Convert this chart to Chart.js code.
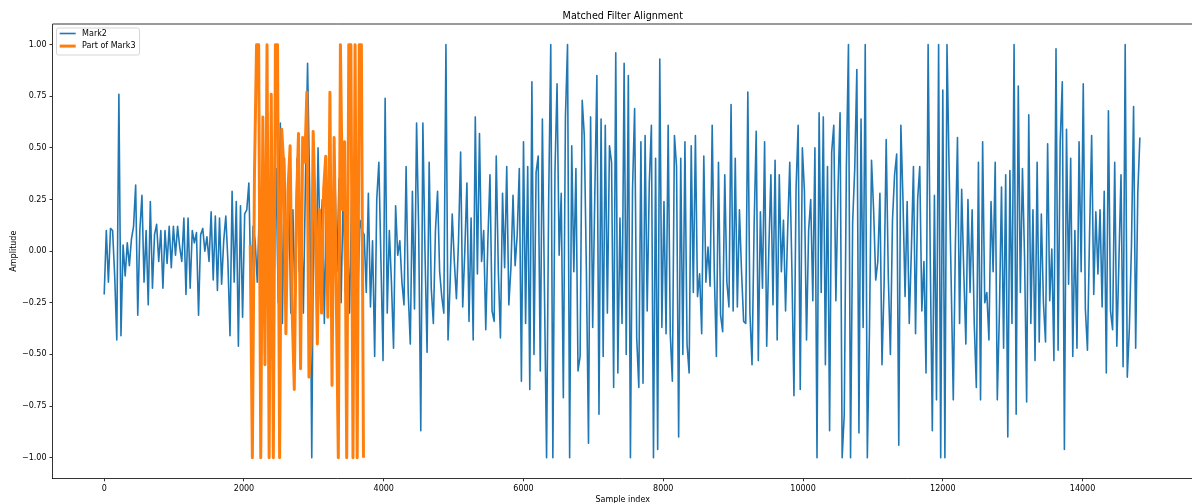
<!DOCTYPE html>
<html>
<head>
<meta charset="utf-8">
<script src="https://cdn.jsdelivr.net/npm/chart.js@4.4.1/dist/chart.umd.min.js"></script>
<style>
  html, body { margin: 0; padding: 0; background: #fff; overflow: hidden; }
</style>
</head>
<body>
<canvas id="chart" width="1192" height="503"></canvas>
<script>
const titleText = 'Matched Filter Alignment';
const xTitle = 'Sample index';
const yTitle = 'Amplitude';

const xTicks = [0, 2000, 4000, 6000, 8000, 10000, 12000, 14000];
const yTicks = [-1, -0.75, -0.5, -0.25, 0, 0.25, 0.5, 0.75, 1];

// Mark2, one value every sampleStep samples from index 0
const sampleStep = 30;
const mark2 = [
  -0.21, 0.10, -0.15, 0.11, 0.10, -0.12, -0.43, 0.76, -0.41, 0.03,
  -0.12, 0.04, -0.07, 0.06, 0.12, 0.32, -0.31, 0.10, 0.27, -0.15,
  0.10, -0.26, 0.24, -0.18, 0.08, 0.13, -0.05, 0.10, -0.18, 0.10,
  -0.06, 0.12, -0.08, 0.12, -0.02, 0.12, 0.02, -0.05, 0.16, -0.21,
  0.16, -0.18, 0.10, 0.04, 0.09, -0.31, 0.08, 0.11, 0.00, 0.07,
  -0.05, 0.19, -0.14, 0.17, -0.19, 0.16, -0.16, 0.05, 0.17, -0.05,
  -0.41, 0.29, -0.15, 0.24, -0.46, 0.22, -0.32, 0.18, 0.20, 0.33,
  -0.20, 0.12, 0.05, -0.15, 0.20, -0.25, 0.30, -0.20, 0.35, -0.30,
  0.25, -0.15, 0.40, -0.25, 0.62, -0.35, 0.45, -0.20, 0.30, -0.30,
  0.20, -0.25, 0.45, -0.10, 0.20, -0.30, 0.35, 0.91, 0.30, -1.00,
  0.40, -0.20, 0.50, 0.00, 0.25, -0.35, 0.30, -0.15, 0.20, -0.30,
  0.40, -0.10, 0.35, -0.25, 0.30, -0.20, 0.10, -0.30, 0.25, -0.10,
  0.20, -0.20, 0.15, 0.10, 0.08, -0.20, 0.28, -0.27, 0.05, -0.51,
  0.25, 0.43, -0.05, -0.53, 0.74, -0.30, 0.10, -0.15, -0.47, 0.22,
  -0.02, 0.05, -0.15, -0.26, 0.41, -0.20, -0.45, 0.29, -0.28, 0.62,
  0.10, -0.87, 0.62, 0.00, -0.49, 0.43, -0.18, -0.35, 0.10, 0.29,
  -0.10, -0.22, -0.30, 1.00, -0.43, -0.15, 0.18, -0.05, -0.23, 0.05,
  0.48, -0.27, 0.00, 0.33, -0.34, 0.16, -0.43, 0.65, -0.11, 0.57,
  -0.05, 0.10, -0.38, 0.05, 0.37, -0.29, -0.34, 0.46, -0.10, -0.42,
  0.28, -0.08, 0.41, -0.26, -0.08, 0.27, -0.07, 0.08, 0.40, -0.63,
  0.53, -0.35, 0.41, -0.67, 0.82, -0.50, 0.38, 0.46, -0.58, 0.64,
  -0.20, -1.00, 0.25, 1.00, -1.00, 0.38, 0.81, -0.02, 0.28, -0.71,
  0.65, 1.00, -1.00, 0.51, -0.10, 0.40, -0.58, -0.51, 0.73, 0.56,
  -0.10, -0.93, 0.65, -0.37, 0.27, 0.85, -0.79, 0.64, -0.51, 0.61,
  -0.30, 0.51, 0.43, -0.66, 0.96, -0.59, 0.16, -0.35, 0.91, -0.50,
  0.85, -1.00, 0.30, 0.69, -0.42, -0.66, 0.53, -0.64, 0.56, -0.29,
  0.33, 0.61, -1.00, 0.45, -0.96, 0.93, -0.37, 0.24, -0.40, 0.61,
  -0.40, -0.63, 0.56, 0.41, -0.90, 0.45, -0.50, 0.53, -0.45, -0.59,
  0.51, -0.20, 0.56, -0.22, -0.11, -0.40, 0.46, -0.15, 0.02, -0.17,
  0.61, -0.10, -0.51, 0.43, -0.31, -0.39, 0.37, -0.15, -0.27, 0.71,
  -0.29, 0.45, -0.27, 0.20, -0.10, -0.34, -0.35, 0.77, -0.30, -0.55,
  0.12, 0.58, -0.53, 0.19, -0.18, 0.53, -0.46, 0.00, 0.37, -0.26,
  0.44, -0.43, 0.37, -0.10, 0.15, -0.29, 0.10, 0.43, -0.08, -0.70,
  0.30, 0.61, -0.67, 0.50, 0.29, -0.43, 0.10, 0.25, -0.24, 0.50,
  -1.00, 0.67, -0.20, 0.65, -0.55, 0.41, -0.87, 0.48, 0.61, -0.24,
  0.29, 0.67, -1.00, -0.79, 0.40, 1.00, -1.00, 0.14, 0.40, 0.88,
  -0.88, 0.64, -0.37, 1.00, -1.00, -0.40, 0.44, 0.20, -0.14, -0.05,
  0.28, -0.55, -0.16, 0.54, -0.12, -0.50, 0.15, 0.37, 0.47, -0.94,
  0.61, 0.25, -0.22, 0.24, -0.35, 0.00, 0.41, -0.40, 0.25, 0.41,
  -0.29, -0.05, -0.59, 1.00, -0.02, -0.87, 0.27, -0.72, 1.00, -1.00,
  0.78, -1.00, 1.00, 0.40, -0.15, -0.72, 0.03, 0.55, -0.35, 0.30,
  -0.10, -0.45, 0.25, -0.20, 0.20, -0.35, -0.66, 0.43, -0.72, 0.53,
  -0.25, -0.20, -0.43, 0.24, -0.10, 0.43, -0.72, -0.30, 0.31, -0.47,
  0.37, -0.90, 0.39, -0.35, 1.00, -0.79, 0.80, -0.20, 0.40, -0.03,
  -0.73, 0.66, -0.35, 0.20, -0.53, 0.43, -0.44, 0.18, -0.25, -0.44,
  0.52, -0.24, 0.01, -0.53, 0.98, -0.48, 0.53, 0.82, -0.96, 0.59,
  -0.16, 0.45, -0.51, 0.10, -0.47, 0.53, -0.10, 0.81, -0.28, -0.48,
  0.08, 0.56, -0.21, 0.19, -0.11, 0.20, -0.27, 0.29, -0.59, 0.68,
  -0.29, -0.38, 0.43, -0.46, -0.05, 0.37, -0.56, 1.00, -0.61, -0.37,
  0.03, 0.70, -0.47, 0.28, 0.55
];

// Part of Mark3, same spacing, placed from mark3Start
const mark3Start = 2090;
const mark3Part = [
  0.03, -1.00, 0.37, 1.00, 1.00, -1.00, 0.65, -0.55, 1.00, -1.00,
  0.76, -1.00, 1.00, 1.00, -1.00, 0.59, 0.41, -0.40, 0.30, 0.51,
  -0.30, -0.67, 0.20, 0.57, -0.57, 0.55, 0.43, 0.77, -0.61, -0.45,
  0.58, 0.18, -0.45, 0.20, -0.30, 0.30, 0.46, -0.32, 0.77, -0.65,
  0.55, -0.19, -1.00, 1.00, 0.20, 0.53, -1.00, 1.00, 1.00, -1.00,
  1.00, -1.00, 1.00, 1.00, -1.00
];

const mark2Points = mark2.map((v, i) => ({ x: i * sampleStep, y: v }));
const mark3Points = mark3Part.map((v, i) => ({ x: mark3Start + i * sampleStep, y: v }));

const font = 'DejaVu Sans';
const blue = '#1f77b4';
const orange = '#ff7f0e';

const fmtY = v => (v < 0 ? '\u2212' : '') + Math.abs(v).toFixed(2);

// title, axis titles, legend box and top spine, drawn like matplotlib
const decorations = {
  id: 'decorations',
  afterDraw(chart) {
    const { ctx, chartArea: a } = chart;
    const axesRight = 1193;
    ctx.save();
    ctx.strokeStyle = '#000';
    ctx.lineWidth = 0.8;
    ctx.beginPath();
    ctx.moveTo(a.left, a.top);
    ctx.lineTo(a.right, a.top);
    ctx.stroke();

    ctx.fillStyle = '#000';
    ctx.textAlign = 'center';
    ctx.textBaseline = 'alphabetic';
    ctx.font = '9.6px "' + font + '"';
    ctx.fillText(titleText, (a.left + axesRight) / 2, 19);

    ctx.font = '8px "' + font + '"';
    ctx.textBaseline = 'middle';
    ctx.fillText(xTitle, (a.left + axesRight) / 2, 500);
    ctx.save();
    ctx.translate(14, (a.top + a.bottom) / 2);
    ctx.rotate(-Math.PI / 2);
    ctx.fillText(yTitle, 0, 0);
    ctx.restore();

    // legend
    const items = [
      { label: 'Mark2', color: blue, width: 1.6 },
      { label: 'Part of Mark3', color: orange, width: 3 },
    ];
    const bx = a.left + 4, by = a.top + 4;
    const textX = bx + 25.6;
    let maxW = 0;
    items.forEach(it => { maxW = Math.max(maxW, ctx.measureText(it.label).width); });
    const bw = textX - bx + maxW + 4, bh = 27;
    ctx.fillStyle = 'rgba(255,255,255,0.8)';
    ctx.strokeStyle = '#cccccc';
    ctx.lineWidth = 0.8;
    ctx.beginPath();
    ctx.roundRect(bx, by, bw, bh, 2);
    ctx.fill();
    ctx.stroke();
    items.forEach((it, k) => {
      const yy = by + 5.5 + k * 12.6;
      ctx.strokeStyle = it.color;
      ctx.lineWidth = it.width;
      ctx.beginPath();
      ctx.moveTo(bx + 3.2, yy);
      ctx.lineTo(bx + 19.2, yy);
      ctx.stroke();
      ctx.fillStyle = '#000';
      ctx.textAlign = 'left';
      ctx.fillText(it.label, textX, yy);
    });
    ctx.restore();
  }
};

new Chart(document.getElementById('chart'), {
  type: 'line',
  data: {
    datasets: [
      {
        label: 'Part of Mark3',
        data: mark3Points,
        borderColor: orange,
        borderWidth: 3,
        borderJoinStyle: 'round',
        pointRadius: 0,
        tension: 0,
        order: 0,
      },
      {
        label: 'Mark2',
        data: mark2Points,
        borderColor: blue,
        borderWidth: 1.6,
        borderJoinStyle: 'round',
        pointRadius: 0,
        tension: 0,
        order: 1,
      },
    ],
  },
  options: {
    responsive: false,
    animation: false,
    devicePixelRatio: 1,
    layout: { padding: { top: 24, left: 0, right: 0, bottom: 0 } },
    plugins: {
      legend: { display: false },
      tooltip: { enabled: false },
    },
    scales: {
      x: {
        type: 'linear',
        min: -740,
        max: 15566,
        afterFit: s => { s.height = 24.7; },
        afterBuildTicks: s => { s.ticks = xTicks.map(v => ({ value: v })); },
        grid: { drawOnChartArea: false, drawTicks: true, tickLength: 3, tickColor: '#000', tickWidth: 0.8 },
        border: { display: true, color: '#000', width: 0.8 },
        ticks: {
          color: '#000',
          font: { family: font, size: 8 },
          padding: 3,
          maxRotation: 0,
          autoSkip: false,
          callback: v => String(v),
        },
      },
      y: {
        min: -1.1,
        max: 1.1,
        afterFit: s => { s.width = 52.5; },
        afterBuildTicks: s => { s.ticks = yTicks.map(v => ({ value: v })); },
        grid: { drawOnChartArea: false, drawTicks: true, tickLength: 3, tickColor: '#000', tickWidth: 0.8 },
        border: { display: true, color: '#000', width: 0.8 },
        ticks: {
          color: '#000',
          font: { family: font, size: 8 },
          padding: 3,
          autoSkip: false,
          callback: v => fmtY(v),
        },
      },
    },
  },
  plugins: [decorations],
});
</script>
</body>
</html>
